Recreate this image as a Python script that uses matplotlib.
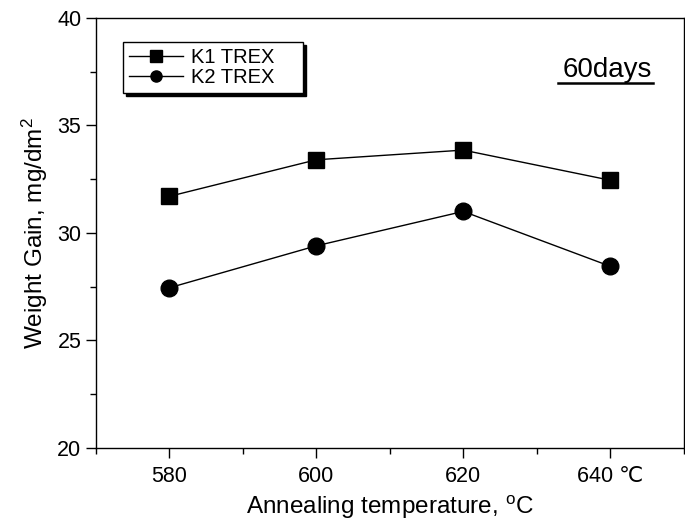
import matplotlib
matplotlib.use("Agg")
import matplotlib.pyplot as plt
from matplotlib.ticker import MultipleLocator

plt.rcParams['font.family'] = ['Liberation Sans', 'DejaVu Sans']
plt.rcParams['mathtext.fontset'] = 'custom'
plt.rcParams['mathtext.rm'] = 'Liberation Sans'
plt.rcParams['mathtext.it'] = 'Liberation Sans'

# data
temps = [580, 600, 620, 640]
k1 = [31.7, 33.4, 33.85, 32.45]
k2 = [27.45, 29.4, 31.0, 28.45]
xtick_labels = ['580', '600', '620', '640 \u2103']

fig = plt.figure(figsize=(6.85, 5.24), dpi=100)
ax = fig.add_axes([0.140, 0.145, 0.858, 0.821])

ax.plot(temps, k1, color='black', lw=1, marker='s', ms=11, label='K1 TREX    ')
ax.plot(temps, k2, color='black', lw=1, marker='o', ms=12, label='K2 TREX    ')

ax.set_xlim(570, 650)
ax.set_ylim(20, 40)
ax.set_xticks(temps)
ax.set_xticklabels(xtick_labels)
ax.xaxis.set_minor_locator(MultipleLocator(10))
ax.yaxis.set_major_locator(MultipleLocator(5))
ax.yaxis.set_minor_locator(MultipleLocator(2.5))
ax.tick_params(which='both', direction='out', labelsize=15.5, width=1)
ax.tick_params(which='major', length=7)
ax.tick_params(which='minor', length=4)
ax.tick_params(axis='x', pad=6)
for s in ax.spines.values():
    s.set_linewidth(1)

ax.set_xlabel(r'Annealing temperature, $^\mathrm{o}$C', fontsize=17.5, labelpad=5)
ax.set_ylabel(r'Weight Gain, mg/dm$^2$', fontsize=17.5, labelpad=5)

leg = ax.legend(loc='upper left', bbox_to_anchor=(0.046, 0.944), fontsize=14.5,
                frameon=True, fancybox=False, edgecolor='black',
                shadow={'facecolor': 'black', 'edgecolor': 'black', 'alpha': 1},
                handlelength=2.7, borderpad=0.3, labelspacing=0.05,
                handletextpad=0.4, borderaxespad=0)
leg.get_frame().set_linewidth(1)
for h in leg.legend_handles:
    h.set_markersize(8)

ax.text(0.947, 0.862, '60days', transform=ax.transAxes, fontsize=20,
        ha='right', va='baseline')
ax.plot([0.786, 0.948], [0.849, 0.849], transform=ax.transAxes,
        color='black', lw=1.8)

fig.savefig('out.png', dpi=100)
